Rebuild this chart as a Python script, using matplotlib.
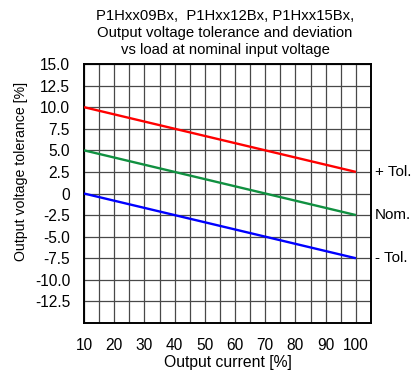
import matplotlib
matplotlib.use("Agg")
import matplotlib.pyplot as plt
import numpy as np

plt.rcParams['font.family'] = ['Liberation Sans', 'DejaVu Sans']

x_current = [10, 100]
plus_tol = [10.0, 2.5]
nominal = [5.0, -2.5]
minus_tol = [0.0, -7.5]
series_labels = ["+ Tol.", "Nom.", "- Tol."]
series_colors = ["#ff0000", "#109040", "#0000ff"]
x_ticks = [10, 20, 30, 40, 50, 60, 70, 80, 90, 100]
y_ticks = [15.0, 12.5, 10.0, 7.5, 5.0, 2.5, 0, -2.5, -5.0, -7.5, -10.0, -12.5]
y_tick_labels = ["15.0", "12.5", "10.0", "7.5", "5.0", "2.5", "0", "-2.5", "-5.0", "-7.5", "-10.0", "-12.5"]
title = "P1Hxx09Bx,  P1Hxx12Bx, P1Hxx15Bx,\nOutput voltage tolerance and deviation\nvs load at nominal input voltage"

fig = plt.figure(figsize=(4.16, 3.74), dpi=100)
ax = fig.add_axes([84/416, 1-323/374, (371-84)/416, (323-64)/374])

ax.set_xlim(10, 105)
ax.set_ylim(-15, 15)
ax.set_xticks(x_ticks)
ax.set_xticks(np.arange(15, 105, 10), minor=True)
ax.set_yticks(y_ticks)
ax.set_yticklabels(y_tick_labels)
ax.grid(True, which='both', color='#484848', linewidth=0.9)
ax.tick_params(which='both', length=0, labelsize=11.2)
ax.tick_params(axis='y', pad=10)
ax.tick_params(axis='x', pad=11)
for s in ax.spines.values():
    s.set_linewidth(1.4)
    s.set_color('black')
ax.set_axisbelow(True)

for ys, lab, c in zip([plus_tol, nominal, minus_tol], series_labels, series_colors):
    ax.plot(x_current, ys, color=c, linewidth=1.7, solid_capstyle='butt', zorder=3)
    ax.annotate(lab, xy=(1, ys[-1]), xycoords=('axes fraction', 'data'),
                xytext=(3, 0), textcoords='offset points', va='center', ha='left', fontsize=11)

ax.set_xlabel("Output current [%]", fontsize=11.3, labelpad=1)
ax.set_ylabel("Output voltage tolerance [%]", fontsize=10.2)
ax.yaxis.set_label_coords(-0.195, 0.587)
fig.text(225/416, 1-33/374, title, ha='center', va='center', fontsize=10.7, linespacing=1.3)

fig.savefig("out.png", dpi=100)
